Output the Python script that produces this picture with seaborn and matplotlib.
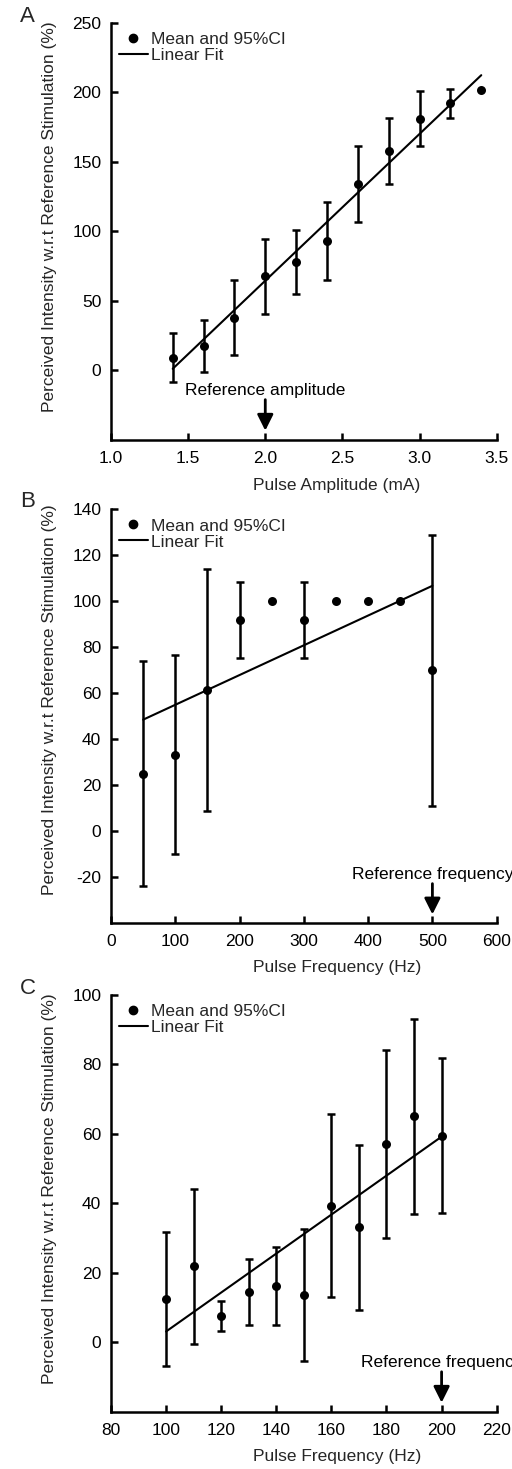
import numpy as np
import matplotlib
matplotlib.use("Agg")
import matplotlib.pyplot as plt
from matplotlib.lines import Line2D
import seaborn as sns

# ---------------- data ----------------
# Panel A: pulse amplitude (mA)
amp_x = [1.4, 1.6, 1.8, 2.0, 2.2, 2.4, 2.6, 2.8, 3.0, 3.2, 3.4]
amp_mean = [9.2, 17.5, 38.0, 67.8, 77.9, 93.3, 134.0, 157.9, 181.1, 192.1, 201.5]
amp_ci = [17.6, 18.6, 27.0, 27.0, 23.0, 28.0, 27.5, 23.7, 19.7, 10.7, 0.0]
amp_fit_x = [1.4, 3.4]
amp_fit_y = [1.2, 212.4]
amp_ref = 2.0

# Panel B: pulse frequency (Hz), reference 500 Hz
fb_x = [50, 100, 150, 200, 250, 300, 350, 400, 450, 500]
fb_mean = [24.8, 33.1, 61.5, 91.8, 100.0, 91.8, 100.0, 100.0, 100.0, 69.9]
fb_ci = [49.0, 43.4, 52.7, 16.4, 0.0, 16.4, 0.0, 0.0, 0.0, 58.9]
fb_fit_x = [50, 500]
fb_fit_y = [48.4, 106.7]
fb_ref = 500

# Panel C: pulse frequency (Hz), reference 200 Hz
fc_x = [100, 110, 120, 130, 140, 150, 160, 170, 180, 190, 200]
fc_mean = [12.4, 21.9, 7.6, 14.5, 16.3, 13.7, 39.3, 33.1, 57.1, 65.1, 59.5]
fc_ci = [19.3, 22.3, 4.4, 9.4, 11.2, 19.0, 26.4, 23.7, 27.0, 28.1, 22.4]
fc_fit_x = [100, 200]
fc_fit_y = [3.1, 59.2]
fc_ref = 200

sns.set_style("ticks")
plt.rcParams["font.family"] = ["Liberation Sans", "DejaVu Sans"]
plt.rcParams["font.size"] = 12
plt.rcParams["axes.unicode_minus"] = False

fig = plt.figure(figsize=(5.12, 14.69), dpi=100)

left, width = 0.2168, 0.7533
axA = fig.add_axes([left, 0.7005, width, 0.2839])
axB = fig.add_axes([left, 0.3719, width, 0.2814])
axC = fig.add_axes([left, 0.0390, width, 0.2837])

ylabel = "Perceived Intensity w.r.t Reference Stimulation (%)"

def draw(ax, x, mean, ci, fx, fy, xlim, ylim, xticks, yticks, xlabel,
         ref_x, ref_text, ref_text_y, arr_top, arr_bot, letter, letter_y,
         ylabel_y):
    x = np.asarray(x, float)
    mean = np.asarray(mean, float)
    ci = np.asarray(ci, float)
    m = ci > 0
    ax.errorbar(x[m], mean[m], yerr=ci[m], fmt="none", ecolor="black",
                elinewidth=1.8, capsize=3.2, capthick=1.8, zorder=2)
    sns.lineplot(x=fx, y=fy, ax=ax, color="black", lw=1.5, zorder=3)
    sns.scatterplot(x=x, y=mean, ax=ax, color="black", s=42,
                    edgecolor="black", linewidth=0, zorder=4)
    ax.set_xlim(*xlim)
    ax.set_ylim(*ylim)
    ax.set_xticks(xticks)
    ax.set_yticks(yticks)
    ax.xaxis.set_major_formatter(matplotlib.ticker.FormatStrFormatter(
        "%.1f" if isinstance(xticks[0], float) else "%d"))
    sns.despine(ax=ax)
    for s in ["left", "bottom"]:
        ax.spines[s].set_linewidth(1.8)
        ax.spines[s].set_color("black")
    ax.tick_params(direction="in", length=5, width=1.8, labelsize=12.5,
                   colors="black")
    ax.tick_params(axis="x", pad=8)
    ax.tick_params(axis="y", pad=7)
    ax.set_xlabel(xlabel, fontsize=12.5)
    ax.set_ylabel(ylabel, fontsize=12.5)
    ax.xaxis.set_label_coords(0.585, -0.108)
    ax.yaxis.set_label_coords(-0.159, ylabel_y)
    ax.xaxis.label.set_va("center")
    ax.yaxis.label.set_va("center")
    handles = [Line2D([], [], marker="o", ls="none", color="black", markersize=6),
               Line2D([], [], color="black", lw=1.5)]
    ax.legend(handles, ["Mean and 95%CI", "Linear Fit"], loc="upper left",
              bbox_to_anchor=(0.02, 0.978), frameon=False, fontsize=12.5,
              handlelength=1.7, handletextpad=0.15, labelspacing=0.05,
              borderpad=0.0, borderaxespad=0.0)
    ax.annotate("", xy=(ref_x, arr_bot), xytext=(ref_x, arr_top),
                arrowprops=dict(arrowstyle="-|>,head_width=0.4,head_length=0.8",
                                lw=2, color="black", shrinkA=0, shrinkB=0))
    ax.text(ref_x, ref_text_y, ref_text, ha="center", va="center",
            fontsize=12.5, color="black")
    fig.text(20 / 512, 1 - letter_y / 1469, letter, fontsize=16,
             ha="left", va="center")
    ax.set_facecolor("white")

draw(axA, amp_x, amp_mean, amp_ci, amp_fit_x, amp_fit_y,
     (1.0, 3.5), (-50, 250), [1.0, 1.5, 2.0, 2.5, 3.0, 3.5],
     [0, 50, 100, 150, 200, 250], "Pulse Amplitude (mA)",
     amp_ref, "Reference amplitude", -14.4, -21, -43.3, "A", 17, 0.535)

draw(axB, fb_x, fb_mean, fb_ci, fb_fit_x, fb_fit_y,
     (0, 600), (-40, 140), [0, 100, 200, 300, 400, 500, 600],
     [-20, 0, 20, 40, 60, 80, 100, 120, 140], "Pulse Frequency (Hz)",
     fb_ref, "Reference frequency", -19.1, -23.0, -36.4, "B", 501, 0.539)

draw(axC, fc_x, fc_mean, fc_ci, fc_fit_x, fc_fit_y,
     (80, 220), (-20, 100), [80, 100, 120, 140, 160, 180, 200, 220],
     [0, 20, 40, 60, 80, 100], "Pulse Frequency (Hz)",
     fc_ref, "Reference frequency", -5.9, -8.5, -17.4, "C", 989, 0.536)

fig.savefig("out.png", dpi=100, facecolor="white")
